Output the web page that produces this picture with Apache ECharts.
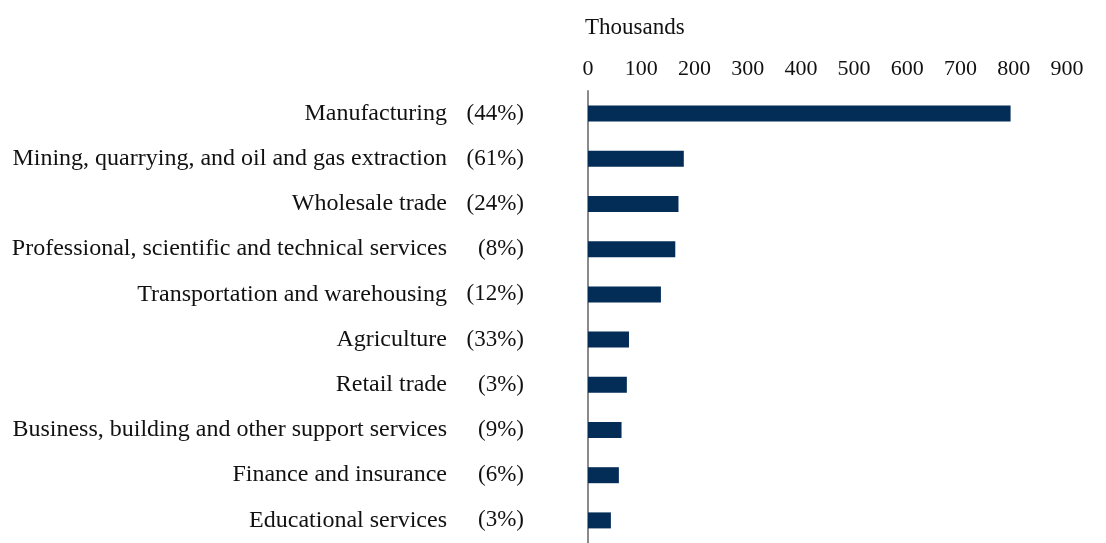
<!DOCTYPE html>
<html>
<head>
<meta charset="utf-8">
<script src="https://cdn.jsdelivr.net/npm/echarts@6/dist/echarts.min.js"></script>
<style>html,body{margin:0;padding:0;background:#fff}#c{width:1106px;height:543px}</style>
</head>
<body>
<div id="c"></div>
<script>
const categories = [
  "Manufacturing",
  "Mining, quarrying, and oil and gas extraction",
  "Wholesale trade",
  "Professional, scientific and technical services",
  "Transportation and warehousing",
  "Agriculture",
  "Retail trade",
  "Business, building and other support services",
  "Finance and insurance",
  "Educational services"
];
const shares = ["(44%)", "(61%)", "(24%)", "(8%)", "(12%)", "(33%)", "(3%)", "(9%)", "(6%)", "(3%)"];
const values = [794, 180, 170, 164, 137, 77, 73, 63, 58, 43];
const xTicks = { min: 0, max: 900, interval: 100 };
const unitLabel = "Thousands";

const FONT = "'Liberation Serif', 'DejaVu Serif', serif";
const chart = echarts.init(document.getElementById('c'), null, { renderer: 'canvas' });
chart.setOption({
  animation: false,
  backgroundColor: '#ffffff',
  title: {
    text: unitLabel, left: 580, top: 11,
    textStyle: { fontFamily: FONT, fontSize: 23, fontWeight: 'normal', color: '#111' }
  },
  grid: { left: 588, top: 91, width: 479, height: 458, containLabel: false },
  xAxis: {
    type: 'value', position: 'top',
    min: xTicks.min, max: xTicks.max, interval: xTicks.interval,
    axisLine: { show: false }, axisTick: { show: false }, splitLine: { show: false },
    axisLabel: { margin: 11, color: '#111', fontFamily: FONT, fontSize: 22 }
  },
  yAxis: {
    type: 'category', inverse: true, data: categories,
    axisLine: { show: true, lineStyle: { color: '#8a8a8a', width: 2 } },
    axisTick: { show: false },
    axisLabel: {
      margin: 64,
      formatter: function (v, i) { return '{a|' + v + '}{b|' + shares[i] + '}'; },
      rich: {
        a: { width: 470, align: 'right', fontFamily: FONT, fontSize: 24, color: '#111' },
        b: { width: 77, align: 'right', fontFamily: FONT, fontSize: 23, color: '#111' }
      }
    }
  },
  series: [{
    type: 'bar', data: values, barWidth: 16,
    itemStyle: { color: '#032C57' }
  }]
});
</script>
</body>
</html>
